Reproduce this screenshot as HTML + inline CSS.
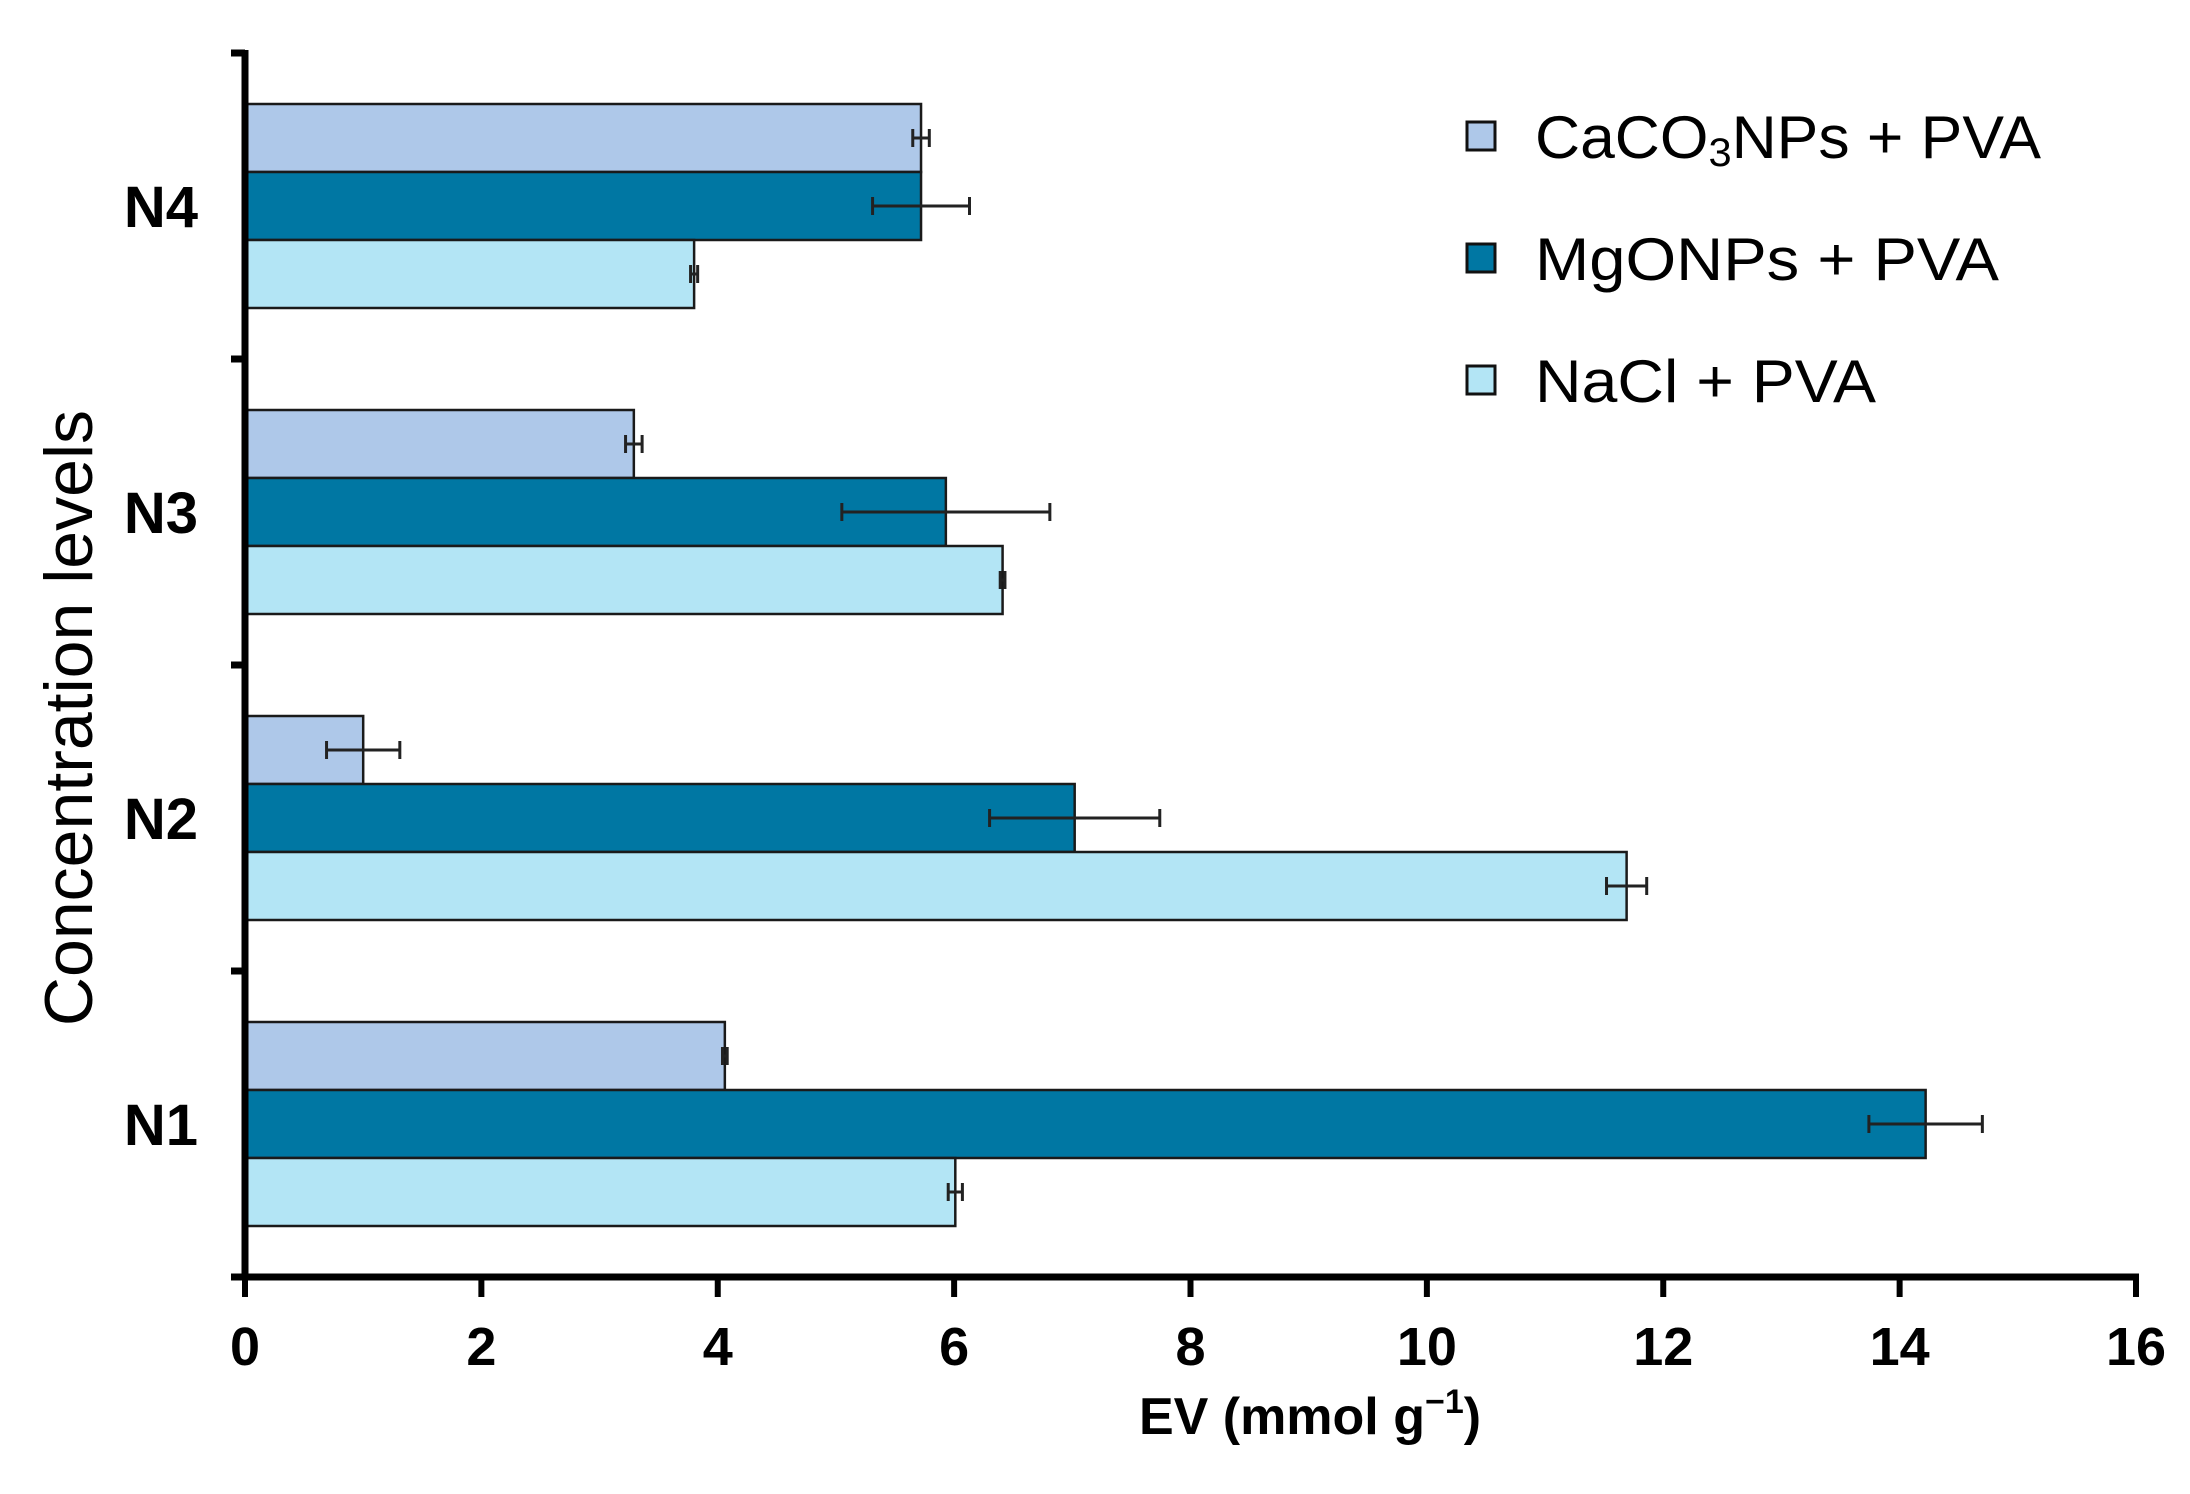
<!DOCTYPE html>
<html><head><meta charset="utf-8"><style>
body{margin:0;background:#fff}
svg{display:block}
</style></head><body>
<svg id="chart" width="2190" height="1494" viewBox="0 0 2190 1494" xmlns="http://www.w3.org/2000/svg" font-family="Liberation Sans, sans-serif">
<g id="bars"></g>
<g id="axes"></g>
<text x="1310" y="1434" font-size="52" font-weight="bold" text-anchor="middle">EV (mmol g<tspan font-size="34" dy="-21">−1</tspan><tspan dy="21">)</tspan></text>
<text transform="translate(92,718) rotate(-90)" font-size="68" text-anchor="middle">Concentration levels</text>
<g>
<rect x="1467" y="122" width="28" height="28" fill="#aec8e9" stroke="#111" stroke-width="3"/>
<text x="1535" y="158" font-size="60" textLength="506" lengthAdjust="spacingAndGlyphs">CaCO<tspan font-size="40" dy="8">3</tspan><tspan dy="-8">NPs + PVA</tspan></text>
<rect x="1467" y="244" width="28" height="28" fill="#0077a3" stroke="#111" stroke-width="3"/>
<text x="1535" y="280" font-size="60" textLength="464" lengthAdjust="spacingAndGlyphs">MgONPs + PVA</text>
<rect x="1467" y="366" width="28" height="28" fill="#b3e5f5" stroke="#111" stroke-width="3"/>
<text x="1535" y="402" font-size="60" textLength="341" lengthAdjust="spacingAndGlyphs">NaCl + PVA</text>
</g>
</svg>
<script>
const categories = ["N1","N2","N3","N4"];
const seriesNames = ["CaCO3NPs + PVA","MgONPs + PVA","NaCl + PVA"];
const caco3Values = [4.06, 1.0, 3.29, 5.72];
const caco3Errors = [0.02, 0.31, 0.07, 0.07];
const mgoValues = [14.22, 7.02, 5.93, 5.72];
const mgoErrors = [0.48, 0.72, 0.88, 0.41];
const naclValues = [6.01, 11.69, 6.41, 3.80];
const naclErrors = [0.06, 0.17, 0.02, 0.03];
const xTicks = [0,2,4,6,8,10,12,14,16];

const NS="http://www.w3.org/2000/svg";
const X0=245, X1=2136, XMAX=16, YTOP=53, YBOT=1277;
const xScale=v=>X0+(X1-X0)*v/XMAX;
const band=(YBOT-YTOP)/categories.length;
const catCenter=i=>YBOT-band*(i+0.5);
const BH=68;
const colors=["#aec8e9","#0077a3","#b3e5f5"];
const vals=[caco3Values,mgoValues,naclValues];
const errs=[caco3Errors,mgoErrors,naclErrors];
const keys=["caco3","mgo","nacl"];
function mk(t,a,p){const e=document.createElementNS(NS,t);for(const k in a)e.setAttribute(k,a[k]);p.appendChild(e);return e;}
const bars=document.getElementById('bars');
categories.forEach((c,i)=>{
  for(let s=0;s<3;s++){
    const y=catCenter(i)-1.5*BH+s*BH;
    const r=mk('rect',{x:X0,y:y,width:xScale(vals[s][i])-X0,height:BH,fill:colors[s],stroke:"#1a1a1a","stroke-width":2.5},bars);
    
    
    const cy=y+BH/2, lo=xScale(vals[s][i]-errs[s][i]), hi=xScale(vals[s][i]+errs[s][i]);
    const g=mk('g',{stroke:"#222","stroke-width":3},bars);
    
    
    mk('line',{x1:lo,x2:hi,y1:cy,y2:cy},g);
    mk('line',{x1:lo,x2:lo,y1:cy-9,y2:cy+9},g);
    mk('line',{x1:hi,x2:hi,y1:cy-9,y2:cy+9},g);
  }
});
const axes=document.getElementById('axes');
const ya=mk('line',{x1:X0,x2:X0,y1:YTOP-3,y2:YBOT+3,stroke:"#000","stroke-width":7},axes);


const xa=mk('line',{x1:X0-14,x2:X1+3,y1:YBOT,y2:YBOT,stroke:"#000","stroke-width":7},axes);


for(let k=0;k<=categories.length;k++){
  const y=YBOT-band*k;
  const t=mk('line',{x1:X0-14,x2:X0,y1:y,y2:y,stroke:"#000","stroke-width":7},axes);
  
  
}
categories.forEach((c,i)=>{
  const t=mk('text',{x:198,y:catCenter(i)+21,"font-size":58,"font-weight":"bold","text-anchor":"end"},axes);
  t.textContent=c;
  
  
});
xTicks.forEach(v=>{
  const x=xScale(v);
  const t=mk('line',{x1:x,x2:x,y1:YBOT,y2:YBOT+20,stroke:"#000","stroke-width":6},axes);
  
  
  const l=mk('text',{x:x,y:1365,"font-size":54,"font-weight":"bold","text-anchor":"middle"},axes);
  l.textContent=v;
  
  
});
</script>
</body></html>
